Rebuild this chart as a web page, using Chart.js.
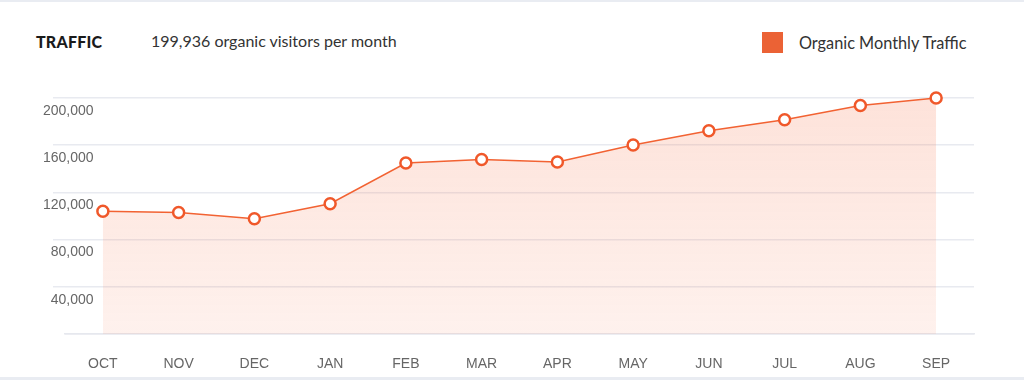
<!DOCTYPE html>
<html>
<head>
<meta charset="utf-8">
<script src="https://cdn.jsdelivr.net/npm/chart.js@4/dist/chart.umd.min.js"></script>
<style>
  html, body { margin: 0; padding: 0; background: #fff; }
  #wrap { position: relative; width: 1024px; height: 380px; overflow: hidden; }
  #topline { position: absolute; left: 0; top: 0; width: 1024px; height: 2px; background: #e9ecf2; }
  #botline { position: absolute; left: 0; top: 377px; width: 1024px; height: 3px; background: #e9ecf2; }
  #title { position: absolute; left: 36px; top: 32px; font: 900 16px Lato, sans-serif; color: #1a1a1a; letter-spacing: 0.2px; }
  #sub { position: absolute; left: 151px; top: 31px; font: 400 16px Lato, sans-serif; color: #333; }
  #legend { position: absolute; left: 762px; top: 32px; display: flex; align-items: center; }
  #legend .sw { width: 21px; height: 21px; background: #EB6235; }
  #legend .lt { margin-left: 16px; font: 400 16.3px Lato, sans-serif; color: #333; }
  canvas { position: absolute; left: 0; top: 0; }
</style>
</head>
<body>
<div id="wrap">
  <div id="topline"></div>
  <div id="botline"></div>
  <div id="title">TRAFFIC</div>
  <div id="sub">199,936 organic visitors per month</div>
  <div id="legend"><div class="sw"></div><div class="lt" id="legendText"></div></div>
  <canvas id="c" width="1024" height="380"></canvas>
</div>
<script>
const months = ['OCT','NOV','DEC','JAN','FEB','MAR','APR','MAY','JUN','JUL','AUG','SEP'];
const organicTraffic = [104000, 103000, 97600, 110400, 144900, 147800, 145800, 160200, 172200, 181500, 193700, 199936];
const yTicks = [0, 40000, 80000, 120000, 160000, 200000];
const seriesLabel = 'Organic Monthly Traffic';

document.getElementById('legendText').textContent = seriesLabel;

const ctx = document.getElementById('c').getContext('2d');
const grad = ctx.createLinearGradient(0, 98, 0, 334);
grad.addColorStop(0, 'rgba(247, 120, 80, 0.21)');
grad.addColorStop(1, 'rgba(247, 120, 80, 0.10)');

new Chart(ctx, {
  type: 'line',
  data: {
    labels: months,
    datasets: [{
      label: seriesLabel,
      data: organicTraffic,
      borderColor: '#F26232',
      borderWidth: 1.5,
      backgroundColor: grad,
      fill: 'origin',
      tension: 0,
      pointRadius: 5.5,
      pointBorderWidth: 2.5,
      pointBackgroundColor: '#fff',
      pointBorderColor: '#F0582A',
      clip: false
    }]
  },
  options: {
    responsive: false,
    animation: false,
    layout: { padding: { left: 0, right: 50, top: 98, bottom: 0 } },
    plugins: { legend: { display: false }, tooltip: { enabled: false } },
    scales: {
      x: {
        offset: true,
        grid: { display: false, drawTicks: false, tickLength: 0 },
        border: { display: true, color: '#e6e8ee', width: 1.5 },
        ticks: { color: '#666', font: { family: 'Liberation Sans, Arial', size: 14 }, padding: 22, maxRotation: 0 },
        afterFit: s => { s.height = 46; }
      },
      y: {
        min: 0, max: 200000,
        afterBuildTicks: s => { s.ticks = yTicks.map(v => ({ value: v })); },
        grid: {
          color: '#e8eaf0', lineWidth: 1.5, tickLength: 12,
          tickColor: c => (c.tick && c.tick.value === 0) ? 'rgba(0,0,0,0)' : '#e8eaf0'
        },
        border: { display: false },
        ticks: {
          color: '#666', font: { family: 'Liberation Sans, Arial', size: 14 },
          mirror: true, crossAlign: 'far',
          padding: -22, labelOffset: 13,
          callback: v => v === 0 ? '' : v.toLocaleString('en-US')
        },
        afterFit: s => { s.width = 65; }
      }
    }
  }
});
</script>
</body>
</html>
